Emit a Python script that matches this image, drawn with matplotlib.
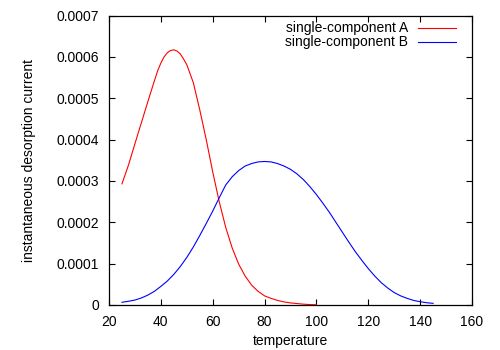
import matplotlib
matplotlib.use('Agg')
import matplotlib.pyplot as plt

# red curve: single-component A (current in units of 1e-4)
temp_a = [25, 27.5, 30, 32.5, 35, 37.5, 38.75, 40, 41.25, 42.5, 43.75, 45, 46.25,
          47.5, 48.75, 50, 52.5, 55, 57.5, 60, 62.5, 65, 67.5, 70, 72.5, 75, 77.5,
          80, 82.5, 85, 87.5, 90, 92.5, 95, 97.5, 100]
curr_a = [2.93, 3.38, 3.90, 4.41, 4.92, 5.42, 5.66, 5.85, 6.00, 6.10, 6.155, 6.17,
          6.14, 6.07, 5.95, 5.81, 5.38, 4.72, 4.00, 3.22, 2.50, 1.88, 1.38, 0.99,
          0.70, 0.48, 0.33, 0.22, 0.16, 0.11, 0.075, 0.05, 0.035, 0.02, 0.01, 0.005]

# blue curve: single-component B
temp_b = [25, 27.5, 30, 32.5, 35, 37.5, 40, 42.5, 45, 47.5, 50, 52.5, 55, 57.5,
          60, 62.5, 65, 67.5, 70, 72.5, 75, 77.5, 80, 82.5, 85, 87.5, 90, 92.5,
          95, 97.5, 100, 102.5, 105, 107.5, 110, 112.5, 115, 117.5, 120, 122.5,
          125, 127.5, 130, 132.5, 135, 137.5, 140, 142.5, 145]
curr_b = [0.065, 0.09, 0.12, 0.17, 0.24, 0.33, 0.45, 0.58, 0.74, 0.93, 1.15, 1.40,
          1.68, 1.97, 2.27, 2.59, 2.90, 3.10, 3.25, 3.36, 3.42, 3.46, 3.47, 3.46,
          3.42, 3.36, 3.28, 3.17, 3.03, 2.86, 2.67, 2.46, 2.24, 2.00, 1.76, 1.52,
          1.29, 1.08, 0.88, 0.70, 0.54, 0.41, 0.30, 0.22, 0.16, 0.11, 0.08, 0.055,
          0.04]

series = [
    ('single-component A', temp_a, curr_a, '#ff0000'),
    ('single-component B', temp_b, curr_b, '#0000ff'),
]

xticks = [20, 40, 60, 80, 100, 120, 140, 160]
yticks = [0, 0.0001, 0.0002, 0.0003, 0.0004, 0.0005, 0.0006, 0.0007]
ytick_labels = ['0', '0.0001', '0.0002', '0.0003', '0.0004', '0.0005', '0.0006', '0.0007']

plt.rcParams['font.family'] = ['Liberation Sans', 'DejaVu Sans']
plt.rcParams['font.size'] = 10

fig = plt.figure(figsize=(5, 3.5), dpi=100)
ax = fig.add_axes([0.218, 0.1286, 0.726, 0.8271])

# gnuplot style key: label right aligned, then the line sample
key_y = 0.957
for label, t, c, col in series:
    ax.plot(t, [v * 1e-4 for v in c], color=col, lw=0.8)
    ax.text(0.824, key_y, label, transform=ax.transAxes, ha='right', va='center')
    ax.plot([0.851, 0.956], [key_y, key_y], transform=ax.transAxes, color=col, lw=0.8)
    key_y -= 0.049

ax.set_xlim(20, 160)
ax.set_ylim(0, 0.0007)
ax.set_xticks(xticks)
ax.set_yticks(yticks)
ax.set_yticklabels(ytick_labels)
ax.tick_params(direction='in', top=True, right=True, length=4, width=0.8, pad=7)
for s in ax.spines.values():
    s.set_linewidth(0.9)

ax.set_xlabel('temperature', labelpad=4)
ax.set_ylabel('instantaneous desorption current', labelpad=15)

fig.savefig('out.png', dpi=100)
